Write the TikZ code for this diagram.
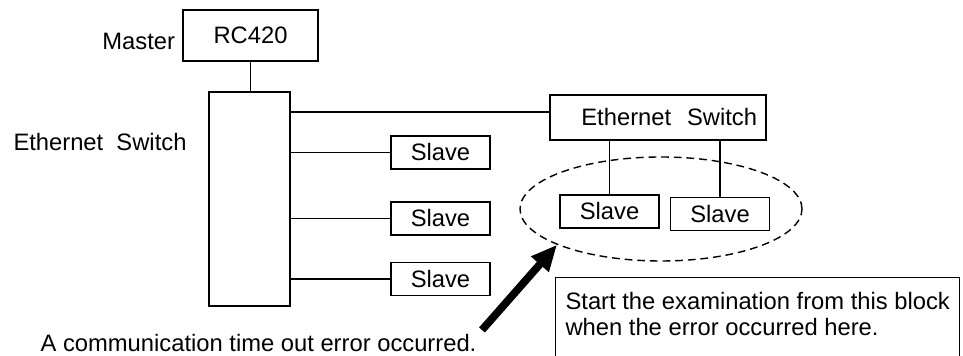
\documentclass[tikz,border=0pt]{standalone}
\usepackage{fontspec}
\setmainfont{Liberation Sans}
\usetikzlibrary{shapes.geometric,arrows.meta}
\begin{document}
\begin{tikzpicture}[font=\fontsize{16.9}{18.5}\selectfont,
  box/.style={draw,line width=1.2pt,inner sep=0pt},
  slavebox/.style={box,minimum width=2.475cm,minimum height=0.825cm},
  wire/.style={line width=1.2pt},
  bigarrow/.style={line width=5.5pt,-{Triangle[length=0.65cm,width=0.55cm]}}]
\useasboundingbox (0,0) rectangle (24.075,8.9);

\node[box,minimum width=3.375cm,minimum height=1.275cm] (rc) at (6.2625,8.0125) {RC420};
\node[anchor=east] (mst) at (4.5,7.875) {Master};
\node[box,minimum width=2.025cm,minimum height=5.35cm] (sw) at (6.2375,3.925) {};
\node (swlabel) at (2.5,5.35) {Ethernet\ \ Switch};
\draw[wire] (rc.south) -- (rc.south |- sw.north);

\node[slavebox] (s1) at (11.0125,5.0875) {Slave};
\node[slavebox] (s2) at (11.0125,3.4375) {Slave};
\node[slavebox] (s3) at (11.0125,1.925) {Slave};
\foreach \s in {s1,s2,s3}
  \draw[wire] (sw.east |- \s.west) -- (\s.west);

\node[box,minimum width=5.4cm,minimum height=1.125cm,text width=4.95cm,align=right] (es) at (16.45,5.9625) {Ethernet\ \ Switch};
\coordinate (tap) at (7.25,6.1);
\draw[wire] (tap) -- (es.west |- tap);

\node[slavebox] (sa) at (15.2375,3.6125) {Slave};
\node[slavebox] (sb) at (18.0,3.55) {Slave};
\draw[wire] (es.south -| sa.north) -- (sa.north);
\draw[wire] (es.south -| sb.north) -- (sb.north);

% the block to look at first
\node[ellipse,draw,dash pattern=on 5.5pt off 3.5pt,line width=1pt,minimum width=7.05cm,minimum height=2.6cm] (grp) at (16.525,3.675) {};

\node (msg) at (6.4625,0.33) {A communication time out error occurred.};
\coordinate (tail) at (12.05,0.65);
\draw[bigarrow] (tail) -- (grp.199);

\node[draw,line width=0.8pt,anchor=north west,align=left,inner xsep=0.25cm,inner ysep=0.38cm,text depth=1.6cm] (note) at (13.875,1.975)
  {Start the examination from this block\\when the error occurred here.};
\end{tikzpicture}
\end{document}
